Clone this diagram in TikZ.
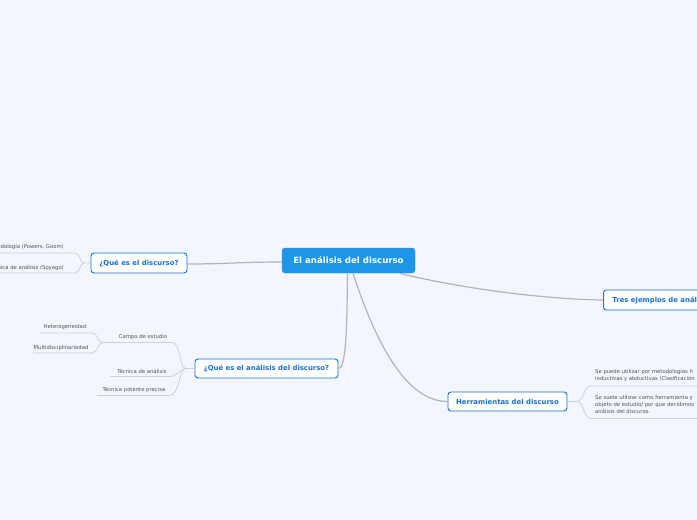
\documentclass[tikz,border=0pt]{standalone}
\usepackage{fontspec}
\setmainfont{DejaVu Sans}
\definecolor{bg}{HTML}{F4F6FD}
\definecolor{mainblue}{HTML}{1E96E8}
\definecolor{tblue}{HTML}{1670D8}
\definecolor{conn}{HTML}{B3B4B8}
\definecolor{leafln}{HTML}{CDD1DA}
\definecolor{leaftx}{HTML}{4D525B}
\begin{document}
\begin{tikzpicture}[x=1pt,y=-1pt,
  central/.style={draw=mainblue,fill=mainblue,text=white,rounded corners=3pt,inner sep=0pt,
    font=\fontsize{8.6}{10}\selectfont\bfseries},
  topic/.style={draw=tblue,fill=white,text=tblue,rounded corners=3pt,line width=0.9pt,inner sep=0pt,
    font=\fontsize{6.9}{8}\selectfont\bfseries},
  leaf/.style={text=leaftx,inner sep=0pt,font=\fontsize{5.3}{7}\selectfont},
  mainconn/.style={draw=conn,line width=1.2pt},
  leafconn/.style={draw=leafln,line width=0.8pt}]
\useasboundingbox (0,0) rectangle (697,520);
\fill[bg] (0,0) rectangle (697,520);
\clip (0,0) rectangle (697,520);

% nodes
\node[central,minimum width=133pt,minimum height=25pt] (c) at (348.5,260.5) {El análisis del discurso};
\node[topic,minimum width=96pt,minimum height=20pt] (q1) at (139,263) {¿Qué es el discurso?};
\node[topic,minimum height=20pt,anchor=west,inner xsep=9pt] (tres) at (603,300) {Tres ejemplos de análisis};
\node[topic,minimum width=143pt,minimum height=19pt] (q2) at (266.5,368.5) {¿Qué es el análisis del discurso?};
\node[topic,minimum width=119pt,minimum height=19pt] (her) at (507.5,401.5) {Herramientas del discurso};

% main connectors
\coordinate (cA) at (400,273.5);
\coordinate (cB) at (347.5,273.5);
\coordinate (cC) at (353,273.5);
\draw[mainconn] (c.west |- 0,262) .. controls (240,262) and (225,264) .. (q1.east |- 0,264);
\draw[mainconn] (cA) .. controls (460,288) and (540,299) .. (tres.west);
\draw[mainconn] (cB) .. controls (347,330) and (346,368.5) .. (q2.east);
\draw[mainconn] (cC) .. controls (375,340) and (405,401.5) .. (her.west);

% left of q1
\node[leaf,anchor=east] (m1) at (64,247) {Metodología (Powers, Goom)};
\node[leaf,anchor=east] (m2) at (64,268) {Técnica de análisis (Soyago)};
\coordinate (j1) at (84,263);
\coordinate (m1e) at (75,253);
\coordinate (m2e) at (75,273);
\draw[leafconn] (q1.west) -- (j1) .. controls (80,263) and (80,253) .. (m1e) -- (-5,253);
\draw[leafconn] (j1) .. controls (80,263) and (80,273) .. (m2e) -- (-5,273);

% left of q2
\node[leaf] (campo) at (143,337) {Campo de estudio};
\node[leaf] (tda) at (142,371) {Técnica de análisis};
\node[leaf] (tpp) at (134,390) {Técnica potente precisa};
\node[leaf] (het) at (65,327.5) {Heterogeneidad};
\node[leaf] (mul) at (61,348) {Multidisciplinariedad};
\coordinate (j2) at (186,368.5);
\coordinate (campoR) at (172,342.5);
\coordinate (campoL) at (103,342.5);
\coordinate (tdaR) at (169,376.5);
\coordinate (tdaL) at (110,376.5);
\coordinate (tppR) at (169,395.5);
\coordinate (tppL) at (97,395.5);
\draw[leafconn] (q2.west) -- (j2) .. controls (179,368.5) and (181,342.5) .. (campoR) -- (campoL);
\draw[leafconn] (j2) .. controls (180,368.5) and (178,376.5) .. (tdaR) -- (tdaL);
\draw[leafconn] (j2) .. controls (179,368.5) and (180,395.5) .. (tppR) -- (tppL);
\coordinate (hetR) at (92,333);
\coordinate (hetL) at (40,333);
\coordinate (mulR) at (92,353);
\coordinate (mulL) at (33,353);
\draw[leafconn] (campoL) .. controls (97,342.5) and (98,333) .. (hetR) -- (hetL);
\draw[leafconn] (campoL) .. controls (97,342.5) and (98,353) .. (mulR) -- (mulL);

% right of herramientas
\node[leaf,anchor=north west,align=left] (h1) at (595,369.5) {Se puede utilizar por metodologías h\\inductivas y abductivas (Clasificación};
\node[leaf,anchor=north west,align=left] (h2) at (595,395.5) {Se suele utilizar como herramienta y\\objeto de estudio/ por que decidimos\\análisis del discurso.};
\coordinate (j3) at (577,401.5);
\coordinate (h1L) at (591,386);
\coordinate (h2L) at (591,418.5);
\draw[leafconn] (her.east) -- (j3) .. controls (584,401.5) and (583,386) .. (h1L) -- (705,386);
\draw[leafconn] (j3) .. controls (584,401.5) and (583,418.5) .. (h2L) -- (705,418.5);
\end{tikzpicture}
\end{document}
